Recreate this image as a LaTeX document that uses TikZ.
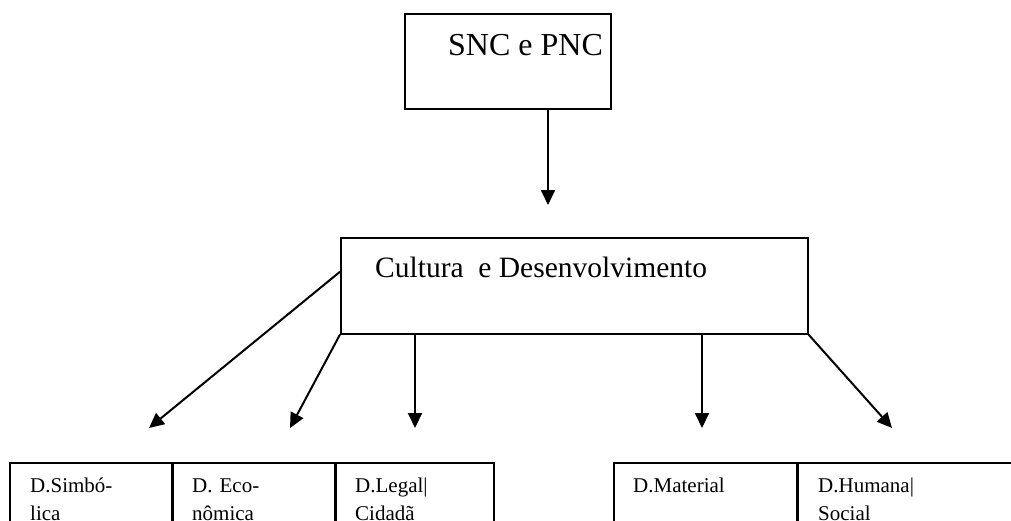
\documentclass[tikz,border=0pt]{standalone}
\usepackage{fontspec}
\setmainfont{Liberation Serif}
\usetikzlibrary{arrows.meta}
\usetikzlibrary{positioning}

\begin{document}
\begin{tikzpicture}[x=1pt,y=-1pt,
  box/.style={draw,line width=1.5pt,inner sep=0pt,anchor=north west},
  dtext/.style={anchor=base west,inner sep=0pt,text width=140pt,align=left,font=\fontsize{21}{28.5}\selectfont},
  seta/.style={line width=2pt,-{Triangle[length=15pt,width=14pt]}}]
  \useasboundingbox (0,0) rectangle (1011,520);
  \clip (0,0) rectangle (1011,520);

  % caixas de cima
  \node[box,minimum width=206pt,minimum height=95pt] (snc) at (404,13) {};
  \node[anchor=base west,inner sep=0pt,font=\fontsize{32}{38}\selectfont] (tsnc) at (448,55) {SNC e PNC};
  \node[box,minimum width=467pt,minimum height=96pt] (cult) at (340,237) {};
  \node[anchor=base west,inner sep=0pt,font=\fontsize{29.5}{35}\selectfont] (tcult) at (375,277) {Cultura\ \ e Desenvolvimento};

  % dimensoes
  \node[box,minimum width=162pt,minimum height=90pt] (simb) at (9,462) {};
  \node[box,minimum width=162pt,minimum height=90pt] (econ) at (172,462) {};
  \node[box,minimum width=158pt,minimum height=90pt] (legal) at (335,462) {};
  \node[box,minimum width=183pt,minimum height=90pt] (mat) at (613,462) {};
  \node[box,minimum width=240pt,minimum height=90pt] (hum) at (797,462) {};

  \node[dtext] (tsimb) at (30,492) {D.Simbó-\\lica};
  \node[dtext] (tecon) at (192,492) {D. Eco-\\nômica};
  \node[dtext] (tlegal) at (355,492) {D.Legal|\\Cidadã};
  \node[dtext] (tmat) at (633,492) {D.Material};
  \node[dtext] (thum) at (818,492) {D.Humana|\\Social};

  % pontas das setas
  \coordinate (p0) at (548,205);
  \coordinate (p1) at (149,428);
  \coordinate (p2) at (290,428);
  \coordinate (p3) at (415,428);
  \coordinate (p4) at (702,428);
  \coordinate (p5) at (892,428);

  \draw[seta] (snc.south -| p0) -- (p0);
  \draw[seta] ([yshift=14pt]cult.west) -- (p1);
  \draw[seta] (cult.south west) -- (p2);
  \draw[seta] (cult.south -| p3) -- (p3);
  \draw[seta] (cult.south -| p4) -- (p4);
  \draw[seta] (cult.south east) -- (p5);
\end{tikzpicture}
\end{document}
